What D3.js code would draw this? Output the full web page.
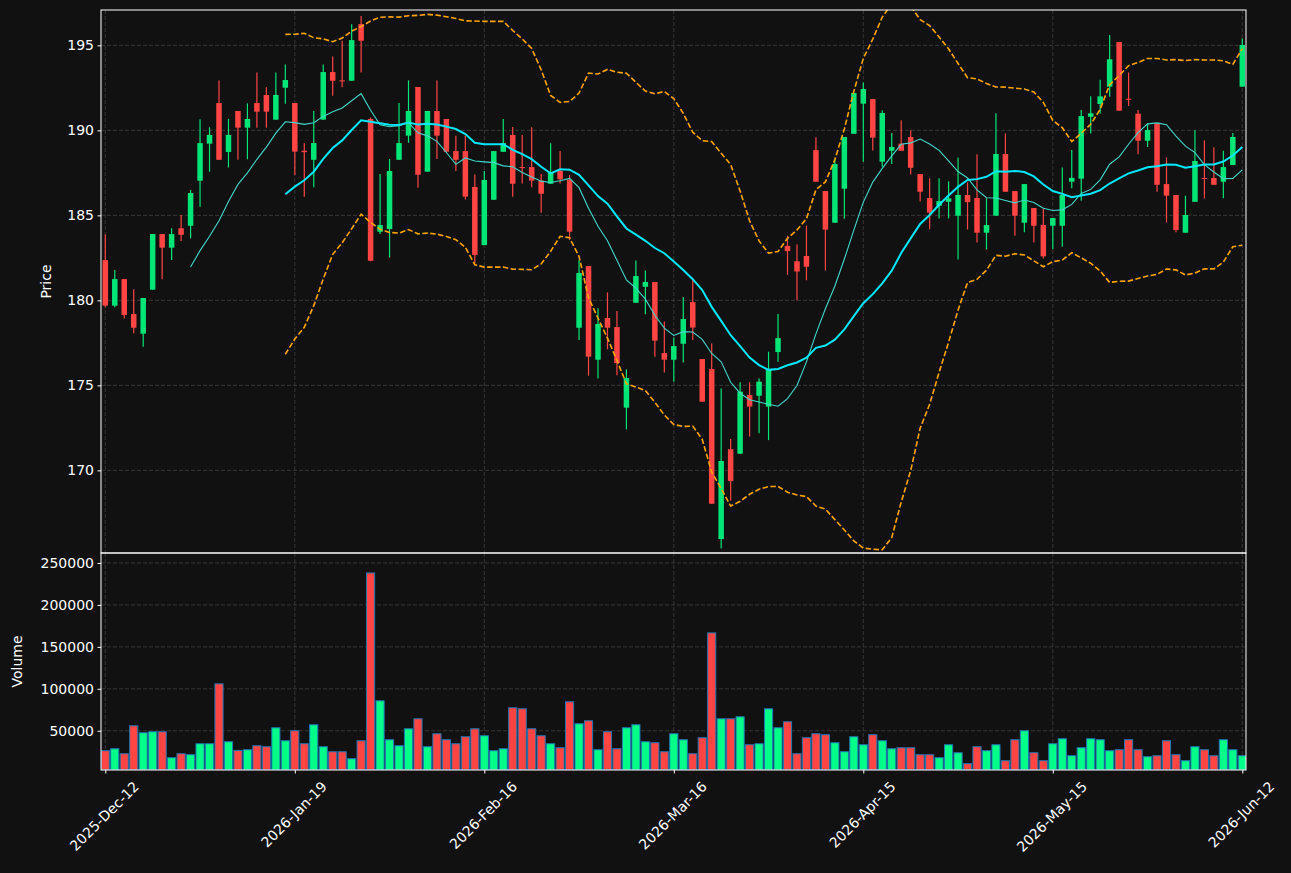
<!DOCTYPE html>
<html><head><meta charset="utf-8">
<script src="https://cdn.jsdelivr.net/npm/d3@7"></script>
<style>
html,body{margin:0;padding:0;background:#111111;}
svg{display:block;}
text{font-family:"DejaVu Sans",sans-serif;}
</style></head>
<body><svg id="chart" width="1291" height="873"></svg>
<script>
const tickIndex = [0, 20, 40, 60, 80, 100, 120];
const tickLabels = ["2025-Dec-12","2026-Jan-19","2026-Feb-16","2026-Mar-16","2026-Apr-15","2026-May-15","2026-Jun-12"];
const priceTicks = [170, 175, 180, 185, 190, 195];
const volumeTicks = [50000, 100000, 150000, 200000, 250000];

const opens = [182.37,179.69,181.25,179.2,178.04,180.63,183.9,183.1,184.24,184.39,
187.04,189.22,191.61,188.73,191.14,190.16,191.61,192.08,190.63,192.51,
191.61,188.8,188.27,190.63,193.43,192.94,192.92,196.25,190.67,184.04,
184.2,188.27,189.69,192.55,187.57,191.14,190.67,188.78,188.78,186.67,
183.25,185.92,188.74,189.73,187.84,187.84,187.04,186.86,187.61,187.1,
178.39,182.02,176.51,178.96,178.43,173.69,179.86,180.8,181.08,176.9,
176.51,177.45,179.9,176.55,175.96,165.96,171.25,170.98,174.43,174.39,
173.75,176.96,183.2,182.3,182.61,188.84,186.43,184.57,186.57,189.8,
191.57,191.84,188.16,188.8,189.22,189.61,187.43,186.02,185.57,185.8,
184.98,186.2,186.02,183.98,184.98,188.61,186.43,184.57,185.43,184.43,
184.39,184.39,186.98,187.16,190.8,191.55,192.57,195.2,191.86,190.98,
189.39,190.41,186.84,186.2,183.98,185.8,187.2,187.2,186.98,187.96,
192.57];
const highs = [183.88,181.78,181.25,180.65,180.14,183.9,183.9,184.24,185.02,186.49,
190.65,190.18,192.94,190.67,191.14,191.59,193.41,192.53,193.41,193.88,
191.61,189.24,191.14,193.88,194.35,195.27,196.24,196.73,190.75,187.43,
188.31,191.61,192.94,192.55,191.14,192.94,190.67,189.69,189.69,187.41,
187.61,188.78,190.67,190.2,189.73,190.18,187.43,189.24,188.78,187.37,
182.37,182.02,179.53,180.47,179.37,175.94,182.35,181.76,181.08,178.76,
177.82,180.2,181.3,176.55,177.47,174.82,171.84,175.18,175.18,175.41,
176.98,179.2,183.8,183.3,184.39,189.59,186.43,188.33,189.61,192.2,
192.82,191.84,191.18,189.84,190.59,190.0,187.43,187.18,187.18,187.0,
188.41,186.94,188.59,186.0,191.0,189.82,186.43,186.84,185.43,185.41,
184.84,187.82,188.84,191.2,192.0,192.98,195.61,195.2,193.41,191.2,
190.41,190.41,188.41,186.2,186.16,190.0,189.41,189.0,188.8,189.84,
195.41];
const lows = [179.6,179.6,178.94,178.06,177.27,180.63,181.24,182.37,183.49,183.65,
185.51,187.57,188.27,187.82,188.27,188.3,190.16,190.16,190.63,191.57,
187.37,186.1,186.65,190.63,192.04,192.53,192.92,193.41,182.3,183.9,
182.53,188.27,189.27,186.63,187.57,188.31,188.74,187.61,185.94,182.18,
183.25,185.92,188.74,186.1,186.88,186.65,185.16,186.86,186.88,183.55,
177.67,175.57,175.41,177.12,175.59,172.41,179.86,179.18,176.69,175.75,
175.22,176.35,177.67,174.04,168.04,165.41,168.22,170.98,172.0,172.18,
171.78,176.39,181.5,180.0,181.18,186.98,181.76,184.57,184.8,189.8,
188.16,188.82,187.86,188.02,188.8,187.41,185.82,184.18,184.82,184.82,
182.41,184.17,183.41,183.0,184.98,186.39,183.8,184.0,183.41,182.47,
183.0,183.16,186.59,185.86,189.82,190.98,191.98,191.16,191.43,188.59,
189.02,186.39,184.59,184.0,183.98,185.8,186.0,186.8,186.0,187.96,
192.57];
const closes = [179.69,181.25,179.14,178.39,180.14,183.9,183.1,183.9,183.86,186.31,
189.25,189.73,188.27,189.73,190.16,190.67,191.1,191.1,192.08,192.96,
188.75,188.72,189.25,193.43,192.92,192.9,195.31,195.27,182.33,184.43,
187.61,189.25,191.14,187.39,191.14,189.69,188.74,188.27,186.1,182.67,
187.08,188.78,189.25,186.86,187.8,187.04,186.27,187.51,187.12,184.04,
181.61,176.69,178.61,178.39,176.31,175.43,181.43,181.08,177.63,176.51,
177.31,178.9,178.4,174.04,168.04,170.55,169.37,174.63,173.75,175.22,
175.96,177.78,182.9,181.7,181.98,186.98,184.16,188.02,189.61,192.2,
192.43,189.57,191.02,189.02,188.8,187.8,186.39,185.16,185.84,186.0,
186.2,185.78,183.98,184.43,188.61,186.39,184.98,186.84,184.39,182.59,
184.84,186.2,187.2,190.84,191.0,192.0,194.18,191.16,191.82,189.39,
190.02,186.8,186.16,184.14,185.02,188.2,187.16,186.8,187.84,189.61,
195.02];
const volumes = [26190,28571,22619,55952,47619,48810,48810,17857,22619,21429,
34524,34524,105952,36905,26587,27381,32143,30952,53571,38095,
50000,34524,57143,30952,25000,25000,16667,38095,238095,85714,
39286,32143,52381,64286,30952,46429,39286,34524,42857,52381,
44048,26190,28571,77381,76190,52381,44048,34524,29762,84524,
58333,61905,27381,48810,28571,53571,57143,36905,35714,25000,
46429,39286,22619,41667,166667,64286,64286,66667,33333,34524,
76190,53571,60714,22619,41667,46429,45238,35714,25000,42857,
33333,45238,38095,28571,29762,29762,21429,21429,17857,33333,
23810,10714,30952,26190,33333,14286,39286,50000,23810,14286,
34524,40476,20238,29762,40476,39286,26190,27381,39286,27381,
19048,20238,38095,21429,14286,30952,27381,20238,39286,27381,
20238];

const maShort = 10, maLong = 20, bandWidth = 2;

function sma(arr, n) {
  return arr.map((v, i) => i < n - 1 ? null : d3.mean(arr.slice(i - n + 1, i + 1)));
}
function band(arr, n, k, sign) {
  return arr.map((v, i) => {
    if (i < n - 1) return null;
    const w = arr.slice(i - n + 1, i + 1);
    const m = d3.mean(w);
    const sd = Math.sqrt(d3.mean(w.map(x => (x - m) * (x - m))));
    return m + sign * k * sd;
  });
}
const ma10 = sma(closes, maShort);
const ma20 = sma(closes, maLong);
const upper = band(closes, maLong, bandWidth, 1);
const lower = band(closes, maLong, bandWidth, -1);

const L = 101, R = 1246, T1 = 10, B1 = 553, T2 = 553, B2 = 770;
const n = closes.length;
const svg = d3.select("#chart");
svg.append("rect").attr("width", 1291).attr("height", 873).attr("fill", "#111111");

const x = d3.scaleLinear().domain([-0.454, n - 1 + 0.39]).range([L, R]);
const step = x(1) - x(0);
const yP = d3.scaleLinear().domain([165.14, 197.08]).range([B1, T1]);
const yV = d3.scaleLinear().domain([0.3 * d3.min(volumes), 1.1 * d3.max(volumes)]).range([B2, T2]);

const UP = "#00e676", DOWN = "#ff4444", VUP = "#00ff88", VDOWN = "#ff4444";
const gridColor = "#404040";

const defs = svg.append("defs");
defs.append("clipPath").attr("id", "clipP").append("rect").attr("x", L).attr("y", T1).attr("width", R - L).attr("height", B1 - T1);
defs.append("clipPath").attr("id", "clipV").append("rect").attr("x", L).attr("y", T2).attr("width", R - L).attr("height", B2 - T2);

// grids
const grid = svg.append("g").attr("stroke", gridColor).attr("stroke-width", 0.8).attr("stroke-dasharray", "4,2");
priceTicks.forEach(t => grid.append("line").attr("x1", L).attr("x2", R).attr("y1", yP(t)).attr("y2", yP(t)));
volumeTicks.forEach(t => grid.append("line").attr("x1", L).attr("x2", R).attr("y1", yV(t)).attr("y2", yV(t)));
tickIndex.forEach(t => {
  grid.append("line").attr("x1", x(t)).attr("x2", x(t)).attr("y1", T1).attr("y2", B1);
  grid.append("line").attr("x1", x(t)).attr("x2", x(t)).attr("y1", T2).attr("y2", B2);
});

// candles
const gc = svg.append("g").attr("clip-path", "url(#clipP)");
const bodyW = step * 0.58;
d3.range(n).forEach(i => {
  const up = closes[i] >= opens[i];
  const col = up ? UP : DOWN;
  gc.append("line").attr("x1", x(i)).attr("x2", x(i)).attr("y1", yP(highs[i])).attr("y2", yP(lows[i]))
    .attr("stroke", col).attr("stroke-width", 1.2);
  const yt = yP(Math.max(opens[i], closes[i])), yb = yP(Math.min(opens[i], closes[i]));
  gc.append("rect").attr("x", x(i) - bodyW / 2).attr("width", bodyW)
    .attr("y", yt).attr("height", Math.max(1, yb - yt)).attr("fill", col);
});

// lines
const line = d3.line().defined(d => d != null).x((d, i) => x(i)).y(d => yP(d));
const gl = svg.append("g").attr("clip-path", "url(#clipP)").attr("fill", "none");
gl.append("path").attr("d", line(ma10)).attr("stroke", "#40d8cc").attr("stroke-width", 1.1);
gl.append("path").attr("d", line(ma20)).attr("stroke", "#00e8ff").attr("stroke-width", 2);
gl.append("path").attr("d", line(upper)).attr("stroke", "#ffa500").attr("stroke-width", 1.6).attr("stroke-dasharray", "5.5,2.4");
gl.append("path").attr("d", line(lower)).attr("stroke", "#ffa500").attr("stroke-width", 1.6).attr("stroke-dasharray", "5.5,2.4");

// volume
const gv = svg.append("g").attr("clip-path", "url(#clipV)");
const barW = step * 0.86;
d3.range(n).forEach(i => {
  const up = closes[i] >= opens[i];
  gv.append("rect").attr("x", x(i) - barW / 2).attr("width", barW)
    .attr("y", yV(volumes[i])).attr("height", B2 - yV(volumes[i]))
    .attr("fill", up ? VUP : VDOWN).attr("stroke", "#1f77b4").attr("stroke-width", 1);
});

// frames
const fr = svg.append("g").attr("fill", "none").attr("stroke", "#ffffff").attr("stroke-width", 1);
fr.append("rect").attr("x", L).attr("y", T1).attr("width", R - L).attr("height", B1 - T1);
fr.append("rect").attr("x", L).attr("y", T2).attr("width", R - L).attr("height", B2 - T2);

// axes
function styleAxis(g) {
  g.select(".domain").remove();
  g.selectAll(".tick line").attr("stroke", "#ffffff");
  g.selectAll(".tick text").attr("fill", "#ffffff").style("font-size", "14px").style("font-family", "DejaVu Sans");
}
svg.append("g").attr("transform", `translate(${L},0)`)
  .call(d3.axisLeft(yP).tickValues(priceTicks).tickFormat(d3.format("d")).tickSize(3.5).tickPadding(3.5)).call(styleAxis);
svg.append("g").attr("transform", `translate(${L},0)`)
  .call(d3.axisLeft(yV).tickValues(volumeTicks).tickFormat(d3.format("d")).tickSize(3.5).tickPadding(3.5)).call(styleAxis);
const xa = svg.append("g").attr("transform", `translate(0,${B2})`)
  .call(d3.axisBottom(x).tickValues(tickIndex).tickFormat((d, i) => tickLabels[i]).tickSize(3.5).tickPadding(3.5)).call(styleAxis);
xa.selectAll(".tick text").each(function() {
  const t = d3.select(this);
  const len = this.getComputedTextLength();
  const half = (len + 17) * Math.SQRT1_2 / 2;
  t.attr("y", 0).attr("dy", null)
    .attr("text-anchor", "middle").attr("dominant-baseline", "central")
    .attr("transform", `translate(-1.5,${8 + half}) rotate(-45)`);
});

svg.append("text").text("Price").attr("fill", "#ffffff").style("font-size", "14px")
  .attr("text-anchor", "middle").attr("dominant-baseline", "central")
  .attr("transform", `translate(46,${(T1 + B1) / 2}) rotate(-90)`);
svg.append("text").text("Volume").attr("fill", "#ffffff").style("font-size", "14px")
  .attr("text-anchor", "middle").attr("dominant-baseline", "central")
  .attr("transform", `translate(17,${(T2 + B2) / 2}) rotate(-90)`);
</script>
</body></html>
